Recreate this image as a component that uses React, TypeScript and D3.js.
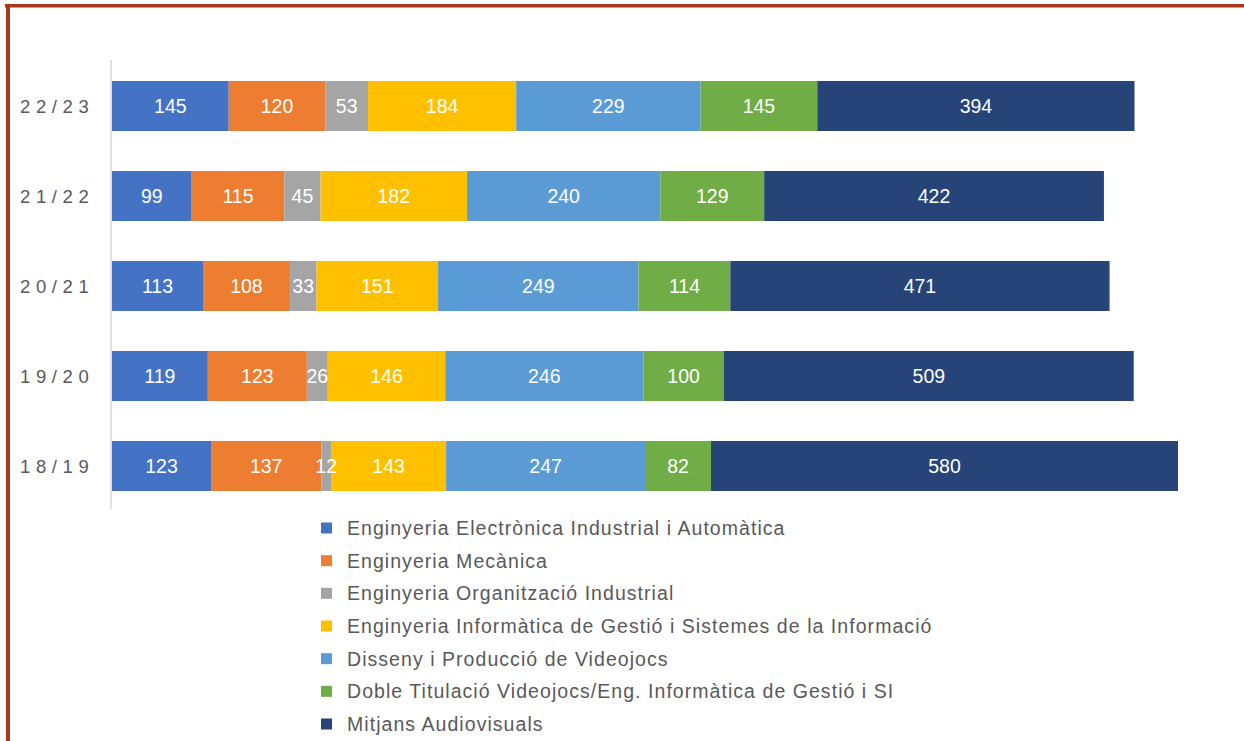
import React from 'react'
import * as d3 from 'd3'

const years = ['22/23', '21/22', '20/21', '19/20', '18/19']
const seriesNames = [
    'Enginyeria Electrònica Industrial i Automàtica',
    'Enginyeria Mecànica',
    'Enginyeria Organització Industrial',
    'Enginyeria Informàtica de Gestió i Sistemes de la Informació',
    'Disseny i Producció de Videojocs',
    'Doble Titulació Videojocs/Eng. Informàtica de Gestió i SI',
    'Mitjans Audiovisuals',
]
const seriesColors = ['#4472C4', '#ED7D31', '#A5A5A5', '#FFC000', '#5B9BD5', '#70AD47', '#264478']

// values per series, in the order of `years`
const electronica = [145, 99, 113, 119, 123]
const mecanica = [120, 115, 108, 123, 137]
const organitzacio = [53, 45, 33, 26, 12]
const informatica = [184, 182, 151, 146, 143]
const videojocs = [229, 240, 249, 246, 247]
const doble = [145, 129, 114, 100, 82]
const audiovisuals = [394, 422, 471, 509, 580]

const seriesValues = [electronica, mecanica, organitzacio, informatica, videojocs, doble, audiovisuals]

const W = 1244
const H = 741
const font = "'Liberation Sans', Arial, sans-serif"

export default function App() {
    const keys = seriesNames.map((_, i) => 's' + i)
    const rows = years.map((y, r) => {
        const row: any = { year: y }
        seriesValues.forEach((vals, i) => { row[keys[i]] = vals[r] })
        return row
    })
    const stacked = d3.stack<any>().keys(keys)(rows)
    const maxTotal = d3.max(rows, (r: any) => d3.sum(keys, k => r[k])) as number

    const x = d3.scaleLinear().domain([0, maxTotal]).range([112, 1178])
    const y = d3.scaleBand().domain(years).range([61, 511]).paddingInner(4 / 9).paddingOuter(2 / 9)

    const legendY = d3.scalePoint().domain(seriesNames).range([528, 724])

    return (
        <svg width={W} height={H} style={{ position: 'absolute', left: 0, top: 0, background: '#fff' }}>
            {/* page border */}
            <rect x={5} y={4} width={W} height={3.5} fill="#A8391C" />
            <rect x={6} y={4} width={4} height={H} fill="#A8391C" />

            {/* category axis */}
            <line x1={111} x2={111} y1={60} y2={509} stroke="#D9D9D9" strokeWidth={1.5} />

            {stacked.map((layer, i) => (
                <g key={i}>
                    {layer.map((d: any, j: number) => (
                        <rect key={j} x={x(d[0])} y={y(d.data.year)} width={x(d[1]) - x(d[0])}
                            height={y.bandwidth()} fill={seriesColors[i]} />
                    ))}
                </g>
            ))}

            {/* value labels drawn after all bars so small ones stay visible */}
            {stacked.map((layer, i) => (
                <g key={'l' + i}>
                    {layer.map((d: any, j: number) => (
                        <text key={j} x={(x(d[0]) + x(d[1])) / 2} y={(y(d.data.year) as number) + y.bandwidth() / 2}
                            dy="0.36em" textAnchor="middle" fill="#fff" fontSize={19.5} fontFamily={font}>
                            {d[1] - d[0]}
                        </text>
                    ))}
                </g>
            ))}

            {years.map(yr => (
                <text key={yr} x={20} y={(y(yr) as number) + y.bandwidth() / 2} dy="0.36em" fill="#595959"
                    fontSize={18.5} fontFamily={font} letterSpacing={5.6}>{yr}</text>
            ))}

            {seriesNames.map((name, i) => (
                <g key={name} transform={`translate(321,${legendY(name)})`}>
                    <rect x={0} y={-5.5} width={11} height={11} fill={seriesColors[i]} />
                    <text x={26} y={0} dy="0.36em" fill="#595959" fontSize={19.5} fontFamily={font}
                        letterSpacing={1.05}>{name}</text>
                </g>
            ))}
        </svg>
    )
}
